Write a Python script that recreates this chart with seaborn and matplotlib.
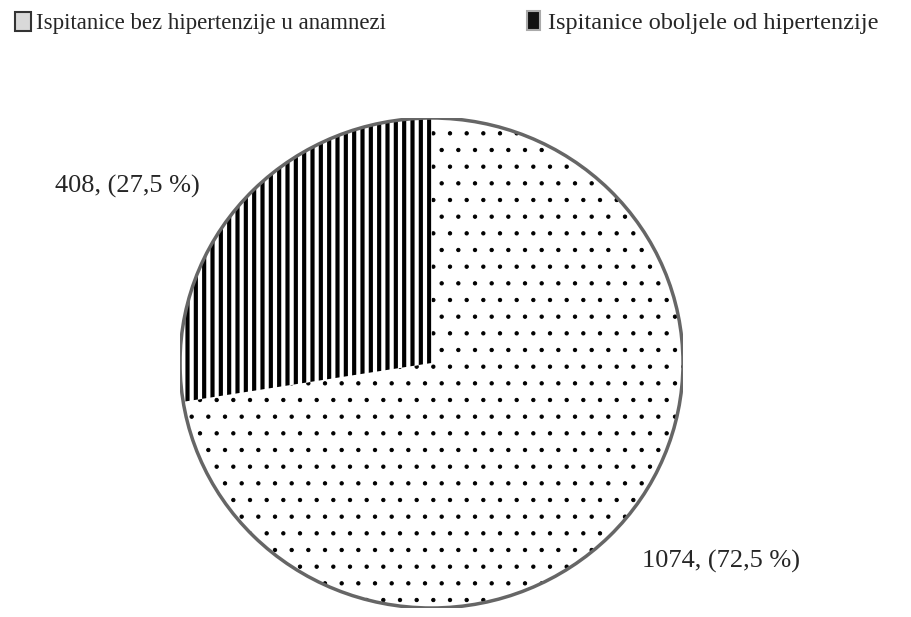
import matplotlib
matplotlib.use("Agg")
import matplotlib.pyplot as plt
from matplotlib.patches import Patch
import seaborn as sns

# data
categories = ["Ispitanice bez hipertenzije u anamnezi", "Ispitanice oboljele od hipertenzije"]
counts = [1074, 408]
percents = ["72,5", "27,5"]
hatches = [".", "||"]
hatch_widths = [0.7, 3.0]

sns.set_theme(style="white")
plt.rcParams["font.family"] = ["Liberation Serif", "DejaVu Serif"]

fig = plt.figure(figsize=(9.11, 6.17), dpi=100)
# pie box: slightly wider than tall, like the original
ax = fig.add_axes([180 / 911, 9 / 617, 503 / 911, 490 / 617])

wedges, _ = ax.pie(counts, startangle=90, counterclock=False,
                   colors=["white", "white"], radius=1.0,
                   wedgeprops=dict(edgecolor="black", linewidth=0))
for w, h, lw in zip(wedges, hatches, hatch_widths):
    w.set_hatch(h)
    w.set_hatch_linewidth(lw)

# outer rim like the original bevel
ax.add_patch(plt.Circle((0, 0), 1.0, fill=False, edgecolor="#666666", linewidth=2.5))

ax.set_xlim(-1.0, 1.0)
ax.set_ylim(-1.0, 1.0)
ax.set_aspect("auto")
ax.axis("off")

# value labels
ax.text(-1.211, 0.722, f"{counts[1]}, ({percents[1]} %)", fontsize=19,
        ha="center", va="center")
ax.text(1.151, -0.808, f"{counts[0]}, ({percents[0]} %)", fontsize=19,
        ha="center", va="center")

# legend, one entry per block
handles = [Patch(facecolor="#d9d9d9", edgecolor="#333333", linewidth=1.5),
           Patch(facecolor="#111111", edgecolor="#aaaaaa", linewidth=1.5)]
leg1 = fig.legend(handles[:1], categories[:1], loc="upper left",
                  bbox_to_anchor=(15 / 911, 1 - 12 / 617), frameon=False, fontsize=16.5,
                  handlelength=0.7, handleheight=0.9, handletextpad=0.2,
                  borderpad=0, borderaxespad=0)
leg2 = fig.legend(handles[1:], categories[1:], loc="upper left",
                  bbox_to_anchor=(527 / 911, 1 - 11 / 617), frameon=False, fontsize=17.5,
                  handlelength=0.55, handleheight=0.8, handletextpad=0.3,
                  borderpad=0, borderaxespad=0)

fig.savefig("out.png", dpi=100)
